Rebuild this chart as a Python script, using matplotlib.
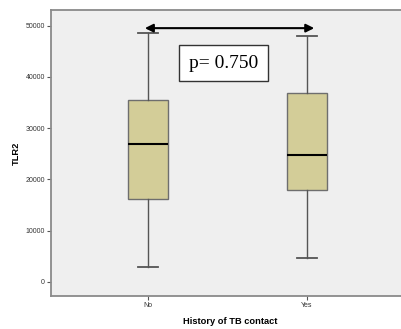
import numpy as np
import matplotlib.pyplot as plt

groups = ['No', 'Yes']
whislo = [2900, 4600]
q1 = [16200, 17900]
med = [26900, 24700]
q3 = [35400, 36800]
whishi = [48500, 48000]
p_text = 'p= 0.750'

fig = plt.figure(figsize=(4.02, 3.29), dpi=100)
ax = fig.add_axes([0.127, 0.101, 0.89, 0.868])
ax.set_facecolor('#efefef')

stats = []
for i in range(len(groups)):
    stats.append({'label': groups[i], 'whislo': whislo[i], 'q1': q1[i], 'med': med[i],
                  'q3': q3[i], 'whishi': whishi[i], 'fliers': []})

ax.bxp(stats, positions=[0, 1], widths=0.25, patch_artist=True, showfliers=False,
       boxprops=dict(facecolor='#d3cd98', edgecolor='#6e6e6e', linewidth=1),
       medianprops=dict(color='black', linewidth=1.5),
       whiskerprops=dict(color='#555555', linewidth=1),
       capprops=dict(color='#555555', linewidth=1.3),
       capwidths=0.125)

# axes runs past the right edge of the figure, like the original
ax.set_xlim(-0.61, 1.64)
ax.set_ylim(-2700, 53000)
ax.set_yticks([0, 10000, 20000, 30000, 40000, 50000])

for s in ['left', 'bottom', 'top']:
    ax.spines[s].set_color('#8a8a8a')
    ax.spines[s].set_linewidth(1.3)
ax.spines['right'].set_visible(False)
ax.tick_params(axis='both', labelsize=5, colors='#333333', length=3, width=0.8, pad=1.5)
ax.tick_params(axis='both', color='#555555')
for lab in ax.get_xticklabels() + ax.get_yticklabels():
    lab.set_family('Liberation Sans')

ax.set_ylabel('TLR2', fontsize=6.7, fontweight='bold', family='Liberation Sans', labelpad=3)
ax.set_xlabel('History of TB contact', fontsize=6.7, fontweight='bold',
              family='Liberation Sans', labelpad=6)

# significance arrow and p-value box
ax.annotate('', xy=(-0.02, 49500), xytext=(1.045, 49500),
            arrowprops=dict(arrowstyle='<|-|>', color='black', lw=1.5,
                            mutation_scale=12, shrinkA=0, shrinkB=0))
ax.text(0.475, 42700, p_text, fontsize=14, family='Liberation Serif',
        ha='center', va='center',
        bbox=dict(boxstyle='square,pad=0.5', facecolor='white', edgecolor='#333333', linewidth=1))

fig.savefig('out.png', dpi=100)
